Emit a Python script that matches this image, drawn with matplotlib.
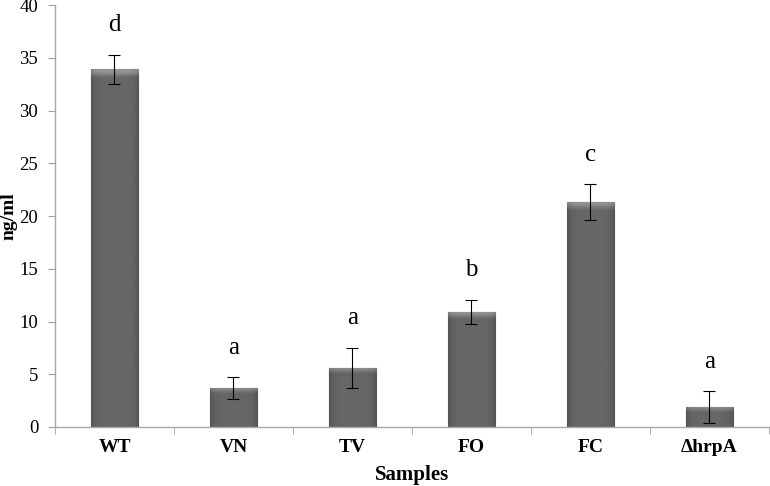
import numpy as np
import matplotlib
matplotlib.use('Agg')
import matplotlib.pyplot as plt

samples = ['WT', 'VN', 'TV', 'FO', 'FC', '\u0394hrpA']
values = [33.9, 3.7, 5.6, 10.9, 21.3, 1.9]
errors = [1.4, 1.0, 1.9, 1.15, 1.7, 1.5]
letters = ['d', 'a', 'a', 'b', 'c', 'a']

plt.rcParams['font.family'] = ['Liberation Serif', 'DejaVu Serif']

fig = plt.figure(figsize=(7.7, 4.86), dpi=100)
ax = fig.add_axes([0.0714, 0.1214, 0.9273, 0.8683])

x = np.arange(len(samples))
bars = ax.bar(x, values, width=0.40, color='#5c5c5c', edgecolor='#3c3c3c',
              linewidth=0.8, zorder=2)

# cylinder-like shading on each bar
prof = np.linspace(-1, 1, 64)
shade = 0.40 - 0.07 * prof ** 6
for b in bars:
    x0, w, h = b.get_x(), b.get_width(), b.get_height()
    img = np.tile(shade, (64, 1))
    # lighter bevel at the top
    top_px = 6.0 / (h * 10.55) if h > 0 else 0
    ys = np.linspace(0, 1, 64)
    bevel = np.clip(1 - (1 - ys) / max(top_px, 1e-3), 0, 1)
    img = img + 0.18 * bevel[:, None]
    im = ax.imshow(img, cmap='gray', vmin=0, vmax=1, origin='lower',
                   extent=[x0, x0 + w, 0, h], aspect='auto', zorder=2.5,
                   interpolation='bilinear')
    im.set_clip_path(b)

ax.errorbar(x, values, yerr=errors, fmt='none', ecolor='black',
            elinewidth=0.8, capsize=4, capthick=0.8, zorder=3)

for xi, v, e, lt in zip(x, values, errors, letters):
    ax.annotate(lt, (xi, v + e), xytext=(0, 17), textcoords='offset points',
                ha='center', va='baseline', fontsize=18)

ax.set_xlim(-0.5, len(samples) - 0.5)
ax.set_ylim(0, 40)
ax.set_yticks(np.arange(0, 41, 5))
ax.set_xticks(x)
ax.set_xticklabels(samples, fontsize=14, fontweight='bold')
ax.set_xticks(np.arange(-0.5, len(samples), 1), minor=True)
ax.tick_params(axis='x', which='major', length=0, pad=9)
ax.tick_params(axis='x', which='minor', length=5, color='#a0a0a0', direction='out')
ax.tick_params(axis='y', length=5, color='#a0a0a0', labelsize=13.5, pad=7)

for s in ['top', 'right']:
    ax.spines[s].set_visible(False)
for s in ['left', 'bottom']:
    ax.spines[s].set_color('#a8a8a8')
    ax.spines[s].set_linewidth(1.0)

ax.set_xlabel('Samples', fontsize=15, fontweight='bold', va='center')
ax.xaxis.set_label_coords(0.5, -0.114)
ax.set_ylabel('ng/ml', fontsize=14, fontweight='bold', va='center')
ax.yaxis.set_label_coords(-0.064, 0.5)

fig.savefig('out.png', dpi=100)
